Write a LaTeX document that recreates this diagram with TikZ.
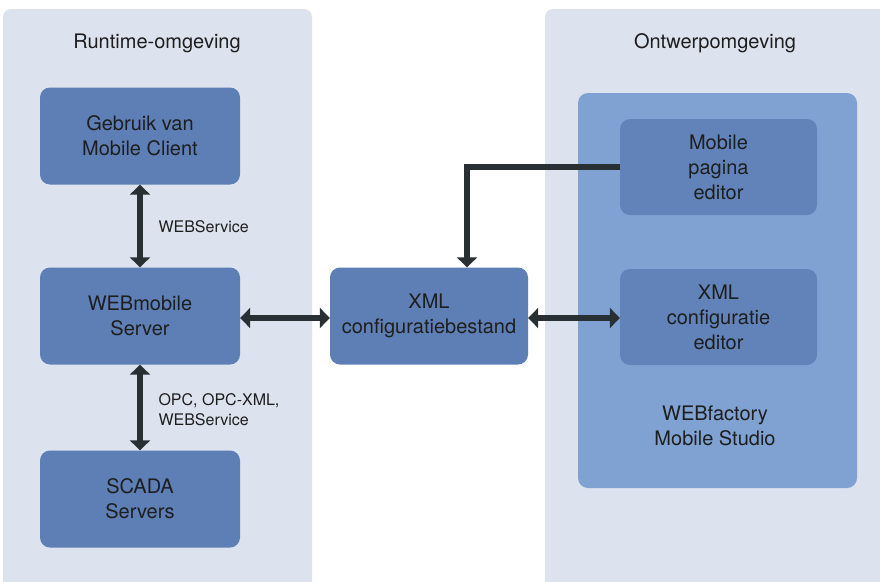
\documentclass[tikz,border=0pt]{standalone}
\usepackage{fontspec}
\setmainfont{TeX Gyre Heros}
\usetikzlibrary{arrows.meta, positioning}

\definecolor{paneelgrijs}{HTML}{DDE3EE}
\definecolor{blokblauw}{HTML}{5E7FB5}
\definecolor{studioblauw}{HTML}{80A2D2}
\definecolor{editorblauw}{HTML}{6183B9}
\definecolor{pijlzwart}{HTML}{283034}
\definecolor{tekstzwart}{HTML}{1E1E1E}

\tikzset{
    blok/.style={
        rectangle,
        rounded corners=10pt,
        fill=blokblauw,
        text=tekstzwart,
        align=center,
        minimum width=200pt,
        minimum height=97pt,
        font=\fontsize{20}{25}\selectfont
    },
    editor/.style={blok, fill=editorblauw, minimum width=197pt, minimum height=96pt},
    kop/.style={text=tekstzwart, font=\fontsize{20}{25}\selectfont},
    label/.style={text=tekstzwart, anchor=west, align=left, font=\fontsize{16}{20}\selectfont},
    tweepijl/.style={line width=6.5pt, draw=pijlzwart, >={Triangle[length=10pt,width=20pt]}, <->},
    enkelpijl/.style={tweepijl, ->}
}

\begin{document}
\begin{tikzpicture}[x=1pt, y=-1pt]
    \useasboundingbox (0,0) rectangle (880,581);
    \fill[white] (0,0) rectangle (880,581);

    % achtergrondpanelen, onderkant valt buiten de pagina
    \fill[paneelgrijs, rounded corners=8pt] (3,9) rectangle (312,600);
    \fill[paneelgrijs, rounded corners=8pt] (545,9) rectangle (900,600);

    \node[kop] (runtime) at (157,43) {Runtime-omgeving};
    \node[kop] (ontwerp) at (715,43) {Ontwerpomgeving};

    % runtime
    \node[blok] (gebruik) at (140,136) {Gebruik van\\Mobile Client};
    \node[blok] (webmobile) at (140,316) {WEBmobile\\Server};
    \node[blok] (scada) at (140,499) {SCADA\\Servers};

    \node[blok, minimum width=198pt] (xmlbestand) at (429,316) {XML\\configuratiebestand};

    % ontwerp
    \node[rectangle, rounded corners=10pt, fill=studioblauw,
          minimum width=279pt, minimum height=395pt] (studio) at (717.5,290.5) {};
    \node[editor] (pagina) at (718.5,167) {Mobile\\pagina\\editor};
    \node[editor] (xmleditor) at (718.5,317) {XML\\configuratie\\editor};
    \node[kop, align=center] (studiolabel) at (715,426) {WEBfactory\\Mobile Studio};

    \draw[tweepijl] (gebruik) -- (webmobile);
    \draw[tweepijl] (webmobile) -- (scada);
    \node[label] (lblws) at (155,227) {WEBService};
    \node[label] (lblopc) at (155,410) {OPC, OPC-XML,\\WEBService};

    \draw[tweepijl] (webmobile.east |- 0,318) -- (xmlbestand.west |- 0,318);
    \draw[tweepijl] (xmlbestand.east |- 0,318) -- (xmleditor.west |- 0,318);

    \coordinate (knik) at (467,167);
    \draw[enkelpijl] (pagina.west) -- (knik) -- (knik |- xmlbestand.north);
\end{tikzpicture}
\end{document}
